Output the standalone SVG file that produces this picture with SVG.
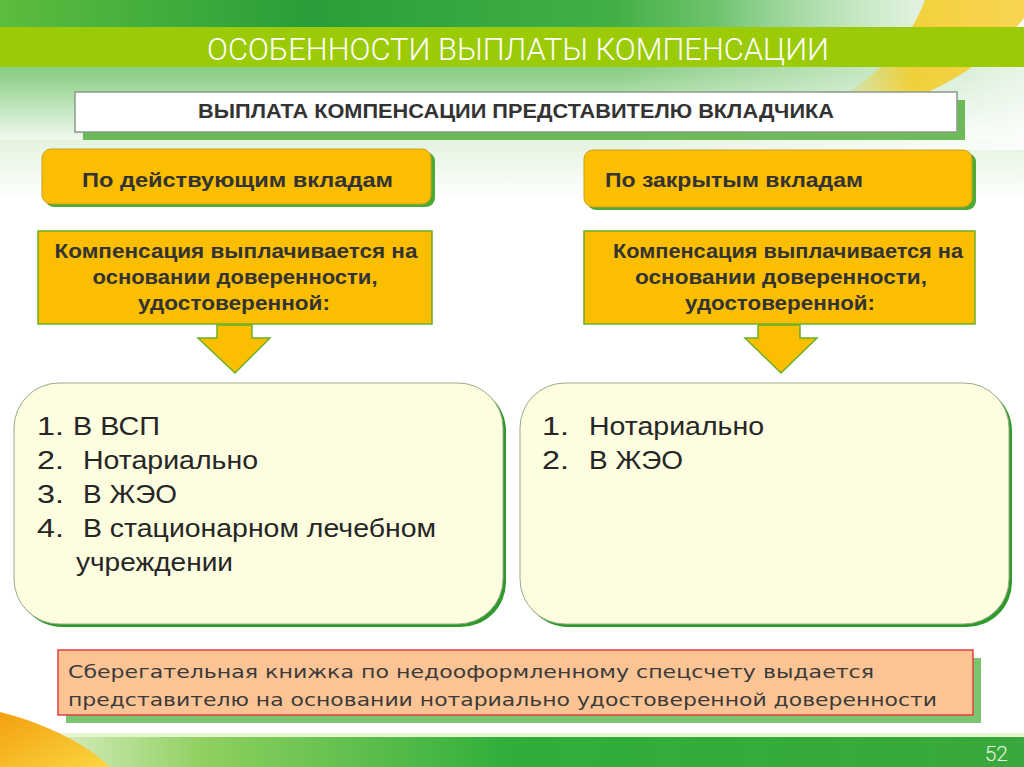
<svg xmlns="http://www.w3.org/2000/svg" width="1024" height="767" viewBox="0 0 1024 767">
<defs>
<linearGradient id="topbg" x1="0" y1="0" x2="0" y2="1">
<stop offset="0" stop-color="#5cbf4c"/>
<stop offset="0.5" stop-color="#8fd08a"/>
<stop offset="1" stop-color="#ffffff"/>
</linearGradient>
<linearGradient id="topdark" x1="0" y1="0" x2="1" y2="0">
<stop offset="0" stop-color="#5cbd3e"/>
<stop offset="0.3" stop-color="#2a9e3a"/>
<stop offset="0.7" stop-color="#4bb54a"/>
<stop offset="1" stop-color="#e8f4e0"/>
</linearGradient>
<linearGradient id="fadeR" x1="0" y1="0" x2="1" y2="0">
<stop offset="0" stop-color="#ffffff" stop-opacity="0"/>
<stop offset="0.6" stop-color="#ffffff" stop-opacity="0"/>
<stop offset="1" stop-color="#ffffff" stop-opacity="0.8"/>
</linearGradient>
<linearGradient id="botband" x1="0" y1="0" x2="1" y2="0">
<stop offset="0" stop-color="#f1f7e0"/>
<stop offset="0.2" stop-color="#8fd060"/>
<stop offset="0.5" stop-color="#2fae3a"/>
<stop offset="1" stop-color="#3aa83c"/>
</linearGradient>
<linearGradient id="midbg" x1="0" y1="0" x2="0" y2="1">
<stop offset="0" stop-color="#e4f3df"/>
<stop offset="1" stop-color="#ffffff"/>
</linearGradient>
<linearGradient id="swoosh" x1="0" y1="0" x2="1" y2="0">
<stop offset="0" stop-color="#f6c915" stop-opacity="0"/>
<stop offset="0.4" stop-color="#f6c915" stop-opacity="0.8"/>
<stop offset="1" stop-color="#f8d040" stop-opacity="0.9"/>
</linearGradient>
<linearGradient id="swooshB" x1="0" y1="0" x2="1" y2="1">
<stop offset="0" stop-color="#f3a010"/>
<stop offset="1" stop-color="#fbd640"/>
</linearGradient>
<style>
.gold{fill:#fcbe00;}
.shadow{fill:#4caa35;}
.hdr{font-family:"Liberation Sans",Arial,sans-serif;font-weight:bold;font-size:20px;fill:#333333;}
.cmp{font-family:"Liberation Sans",Arial,sans-serif;font-weight:bold;font-size:21px;fill:#333333;text-anchor:middle;}
.lst{font-family:"Liberation Sans",Arial,sans-serif;font-size:25px;fill:#262626;}
.note{font-family:"DejaVu Sans",sans-serif;font-size:18px;fill:#3a3a3a;}
</style>
</defs>
<rect width="1024" height="767" fill="#ffffff"/>
<!-- top background -->
<rect x="0" y="0" width="1024" height="150" fill="url(#topbg)"/>
<rect x="0" y="140" width="1024" height="60" fill="url(#midbg)"/>
<rect x="0" y="0" width="1024" height="28" fill="url(#topdark)"/>
<rect x="0" y="0" width="1024" height="150" fill="url(#fadeR)"/>
<path d="M925,0 L1024,0 L1024,18 C995,55 955,85 895,105 C875,100 860,98 835,100 C880,75 910,40 925,0 Z" fill="url(#swoosh)"/>
<rect x="0" y="27" width="1024" height="40" fill="#9acb06"/>
<text x="518" y="60" text-anchor="middle" font-family="Roboto, Liberation Sans, Arial, sans-serif" font-weight="300" font-size="31" fill="#ffffff" textLength="622" lengthAdjust="spacingAndGlyphs">ОСОБЕННОСТИ ВЫПЛАТЫ КОМПЕНСАЦИИ</text>
<!-- bottom band -->
<rect x="0" y="737" width="1024" height="30" fill="url(#botband)"/>
<rect x="0" y="733" width="1024" height="4" fill="#e8f3d0"/>
<path d="M0,712 C40,722 85,742 110,767 L0,767 Z" fill="url(#swooshB)"/>
<text x="1008" y="761" text-anchor="end" font-family="Roboto, Liberation Sans, Arial, sans-serif" font-weight="300" font-size="21" fill="#e8f5e0">52</text>

<g id="header">
<rect x="83" y="100" width="882" height="40" class="shadow" opacity="0.8"/>
<rect x="75" y="92" width="882" height="40" fill="#ffffff" stroke="#8a9a8a" stroke-width="1.5"/>
<text x="516" y="118" text-anchor="middle" class="hdr" font-size="21" textLength="636" lengthAdjust="spacingAndGlyphs">ВЫПЛАТА КОМПЕНСАЦИИ ПРЕДСТАВИТЕЛЮ ВКЛАДЧИКА</text>
</g>

<g id="left-type">
<rect x="45" y="152" width="390" height="55" rx="9" class="shadow"/>
<rect x="42" y="149" width="389" height="55" rx="9" class="gold" stroke="#c8a020" stroke-width="1"/>
<text x="82" y="187" class="hdr" textLength="311" lengthAdjust="spacingAndGlyphs">По действующим вкладам</text>
</g>

<g id="right-type">
<rect x="587" y="153" width="389" height="57" rx="9" class="shadow"/>
<rect x="584" y="150" width="388" height="57" rx="9" class="gold" stroke="#c8a020" stroke-width="1"/>
<text x="605" y="187" class="hdr" textLength="258" lengthAdjust="spacingAndGlyphs">По закрытым вкладам</text>
</g>

<g id="left-comp">
<rect x="38" y="231" width="394" height="93" class="gold" stroke="#6ab023" stroke-width="1.5"/>
<text x="236" y="258" class="cmp" textLength="363" lengthAdjust="spacingAndGlyphs">Компенсация выплачивается на</text>
<text x="235" y="284" class="cmp" textLength="285" lengthAdjust="spacingAndGlyphs">основании доверенности,</text>
<text x="234" y="310" class="cmp" textLength="192" lengthAdjust="spacingAndGlyphs">удостоверенной:</text>
</g>

<g id="right-comp">
<rect x="584" y="231" width="391" height="93" class="gold" stroke="#6ab023" stroke-width="1.5"/>
<text x="788" y="258" class="cmp" textLength="350" lengthAdjust="spacingAndGlyphs">Компенсация выплачивается на</text>
<text x="781" y="284" class="cmp" textLength="292" lengthAdjust="spacingAndGlyphs">основании доверенности,</text>
<text x="780" y="310" class="cmp" textLength="190" lengthAdjust="spacingAndGlyphs">удостоверенной:</text>
</g>

<g id="connectors">
<path d="M217,325 L252,325 L252,338 L270,338 L235,373 L198,338 L217,338 Z" class="gold" stroke="#6ab023" stroke-width="1.5"/>
<path d="M758,325 L800,325 L800,338 L817,338 L781,373 L745,338 L758,338 Z" class="gold" stroke="#6ab023" stroke-width="1.5"/>
</g>

<g id="left-list">
<rect x="17" y="386" width="489" height="241" rx="45" fill="#2f9a2a"/>
<rect x="14" y="383" width="489" height="241" rx="45" fill="#fdfde0" stroke="#9aaa8a" stroke-width="1"/>
<text class="lst" x="37" y="435" textLength="27" lengthAdjust="spacingAndGlyphs">1.</text><text class="lst" x="73" y="435" textLength="87" lengthAdjust="spacingAndGlyphs">В ВСП</text>
<text class="lst" x="37" y="469" textLength="27" lengthAdjust="spacingAndGlyphs">2.</text><text class="lst" x="83" y="469" textLength="175" lengthAdjust="spacingAndGlyphs">Нотариально</text>
<text class="lst" x="37" y="503" textLength="27" lengthAdjust="spacingAndGlyphs">3.</text><text class="lst" x="83" y="503" textLength="94" lengthAdjust="spacingAndGlyphs">В ЖЭО</text>
<text class="lst" x="37" y="537" textLength="27" lengthAdjust="spacingAndGlyphs">4.</text><text class="lst" x="83" y="537" textLength="353" lengthAdjust="spacingAndGlyphs">В стационарном лечебном</text>
<text class="lst" x="76" y="571" textLength="157" lengthAdjust="spacingAndGlyphs">учреждении</text>
</g>

<g id="right-list">
<rect x="523" y="386" width="489" height="241" rx="45" fill="#2f9a2a"/>
<rect x="520" y="383" width="489" height="241" rx="45" fill="#fdfde0" stroke="#9aaa8a" stroke-width="1"/>
<text class="lst" x="542" y="435" textLength="27" lengthAdjust="spacingAndGlyphs">1.</text><text class="lst" x="589" y="435" textLength="175" lengthAdjust="spacingAndGlyphs">Нотариально</text>
<text class="lst" x="542" y="469" textLength="27" lengthAdjust="spacingAndGlyphs">2.</text><text class="lst" x="589" y="469" textLength="94" lengthAdjust="spacingAndGlyphs">В ЖЭО</text>
</g>

<g id="note">
<rect x="66" y="658" width="915" height="65" fill="#6cc060" opacity="0.9"/>
<rect x="58" y="650" width="915" height="65" fill="#fcc494" stroke="#e04040" stroke-width="1.5"/>
<text class="note" x="68" y="678" textLength="806" lengthAdjust="spacingAndGlyphs">Сберегательная книжка по недооформленному спецсчету выдается</text>
<text class="note" x="68" y="706" textLength="869" lengthAdjust="spacingAndGlyphs">представителю на основании нотариально удостоверенной доверенности</text>
</g>
</svg>
